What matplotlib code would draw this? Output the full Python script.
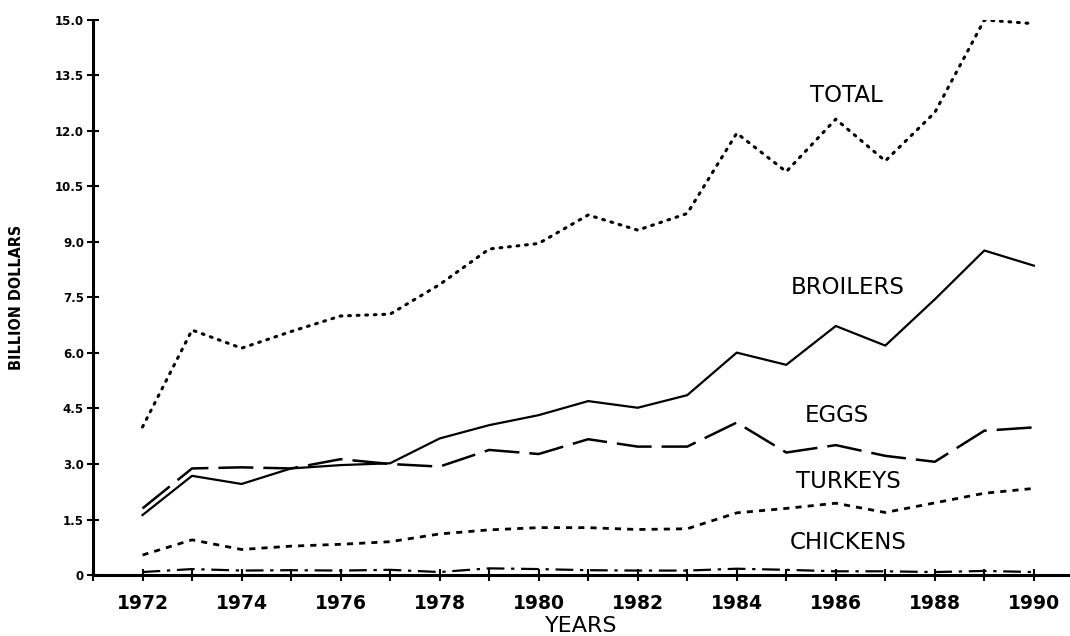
import matplotlib
matplotlib.use("Agg")
import matplotlib.pyplot as plt
from matplotlib.ticker import MultipleLocator, FixedLocator

years = list(range(1972, 1991))
total = [4.0, 6.62, 6.13, 6.58, 7.0, 7.05, 7.85, 8.81, 8.96, 9.73, 9.32, 9.77,
         11.94, 10.9, 12.32, 11.19, 12.5, 15.0, 14.9]
broilers = [1.62, 2.68, 2.46, 2.88, 2.97, 3.02, 3.69, 4.05, 4.32, 4.70, 4.52, 4.86,
            6.01, 5.68, 6.73, 6.2, 7.45, 8.77, 8.36]
eggs = [1.80, 2.88, 2.91, 2.88, 3.13, 3.0, 2.93, 3.38, 3.27, 3.67, 3.47, 3.47,
        4.12, 3.31, 3.51, 3.22, 3.06, 3.9, 3.99]
turkeys = [0.54, 0.95, 0.69, 0.78, 0.83, 0.9, 1.11, 1.22, 1.28, 1.28, 1.23, 1.25,
           1.68, 1.80, 1.94, 1.69, 1.95, 2.21, 2.34]
chickens = [0.08, 0.16, 0.12, 0.13, 0.12, 0.14, 0.08, 0.18, 0.16, 0.13, 0.12, 0.12,
            0.17, 0.14, 0.1, 0.1, 0.08, 0.11, 0.08]

series_labels = ["TOTAL", "BROILERS", "EGGS", "TURKEYS", "CHICKENS"]
ytick_vals = [0, 1.5, 3.0, 4.5, 6.0, 7.5, 9.0, 10.5, 12.0, 13.5, 15.0]
ytick_labels = ["0", "1.5", "3.0", "4.5", "6.0", "7.5", "9.0", "10.5", "12.0", "13.5", "15.0"]
xtick_vals = list(range(1972, 1991, 2))

fig = plt.figure(figsize=(10.7, 6.36), dpi=100)
ax = fig.add_axes([0.0869, 0.0959, 0.9131, 0.8727])

ax.plot(years, total, color="black", lw=2.2, linestyle=(0, (0.6, 2.2)),
        dash_capstyle="round")
ax.plot(years, broilers, color="black", lw=1.6, linestyle="-")
ax.plot(years, eggs, color="black", lw=1.8, linestyle=(0, (14, 4)))
ax.plot(years, turkeys, color="black", lw=2.0, linestyle=(0, (2.2, 2.2)))
ax.plot(years, chickens, color="black", lw=1.6, linestyle=(0, (8, 3, 1.5, 3)))

ax.set_xlim(1971, 1990.73)
ax.set_ylim(0, 15)
ax.spines["top"].set_visible(False)
ax.spines["right"].set_visible(False)
ax.spines["left"].set_linewidth(2.2)
ax.spines["bottom"].set_linewidth(2.2)

ax.xaxis.set_major_locator(FixedLocator(xtick_vals))
ax.xaxis.set_minor_locator(MultipleLocator(1))
ax.set_xticklabels([str(v) for v in xtick_vals], fontsize=13.5, fontweight="bold")
ax.tick_params(axis="x", which="both", direction="inout", length=8, width=1.5, pad=10)

ax.set_yticks(ytick_vals)
ax.set_yticklabels(ytick_labels, fontsize=8.5, fontweight="bold")
ax.tick_params(axis="y", direction="inout", length=9, width=1.5, pad=2)

ax.set_xlabel("YEARS", fontsize=16, labelpad=2)
ax.set_ylabel("BILLION DOLLARS", fontsize=11.5, fontweight="bold", labelpad=22,
              fontstretch="condensed")

label_pos = [(1986.22, 12.97), (1986.25, 7.78), (1986.02, 4.30), (1986.25, 2.54), (1986.25, 0.89)]
for name, (lx, ly) in zip(series_labels, label_pos):
    ax.text(lx, ly, name, fontsize=16.5, ha="center", va="center")

fig.savefig("out.png", dpi=100)
